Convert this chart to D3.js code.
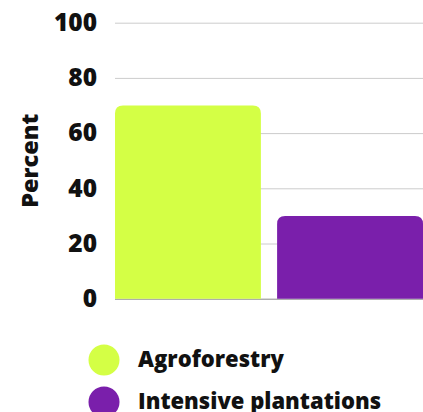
<!DOCTYPE html>
<html>
<head>
<meta charset="utf-8">
<script src="https://cdn.jsdelivr.net/npm/d3@7"></script>
<style>
  body { margin: 0; background: #fff; }
  text { font-family: 'Open Sans', sans-serif; font-weight: 800; fill: #111; }
</style>
</head>
<body>
<svg id="graphic" width="423" height="412"></svg>
<script>
const categories = ['Agroforestry', 'Intensive plantations'];
const values = [70, 30];
const colors = ['#d4ff45', '#7a1fab'];
const yTicks = [0, 20, 40, 60, 80, 100];
const yTitle = 'Percent';

const margins = { top: 22.7, left: 115, right: 0 };
const plotH = 276;
const plotW = 423 - margins.left - margins.right;

const svg = d3.select('#graphic');

const xScale = d3
    .scaleBand()
    .domain(categories)
    .range([0, plotW])
    .paddingInner(0.1)
    .paddingOuter(0);

const yScale = d3
    .scaleLinear()
    .domain([0, 100])
    .range([plotH, 0]);

const plot = svg
    .append('g')
    .attr('transform', `translate(${margins.left}, ${margins.top})`);

// gridlines + tick labels
const yAxis = d3
    .axisLeft(yScale)
    .tickValues(yTicks)
    .tickSize(-plotW)
    .tickPadding(18);

plot
    .append('g')
    .classed('graph-y-axis', true)
    .call(yAxis)
    .call((g) => g.select('.domain').remove())
    .call((g) => g.selectAll('.tick line')
        .attr('stroke', (d) => d === 0 ? '#888' : '#ccc'))
    .call((g) => g.selectAll('.tick text')
        .attr('font-size', 24.5)
        .attr('font-family', '\'Open Sans\', sans-serif')
        .attr('font-weight', 800)
        .attr('fill', '#111'));

// bars with rounded top corners
const r = 8;
function barPath(x, y, w, h) {
  return `M${x},${y + h}V${y + r}Q${x},${y} ${x + r},${y}H${x + w - r}` +
    `Q${x + w},${y} ${x + w},${y + r}V${y + h}Z`;
}

plot
    .selectAll('.data_point')
    .data(categories)
    .enter()
    .append('path')
    .classed('data_point', true)
    .attr('fill', (d, i) => colors[i])
    .attr('d', (d, i) => barPath(xScale(d), yScale(values[i]),
        xScale.bandwidth(), yScale(0) - yScale(values[i])));

// y title
svg
    .append('text')
    .attr('transform', `translate(38, ${margins.top + plotH / 2}) rotate(-90)`)
    .attr('text-anchor', 'middle')
    .attr('font-size', 23.5)
    .text(yTitle);

// legend
const legend = svg
    .selectAll('.legend')
    .data(categories)
    .enter()
    .append('g')
    .classed('legend', true)
    .attr('transform', (d, i) => `translate(104, ${360 + i * 42})`);

legend
    .append('circle')
    .attr('r', 15.5)
    .attr('fill', (d, i) => colors[i]);

legend
    .append('text')
    .attr('x', 34)
    .attr('y', 7)
    .attr('font-size', 22)
    .text((d) => d);
</script>
</body>
</html>
